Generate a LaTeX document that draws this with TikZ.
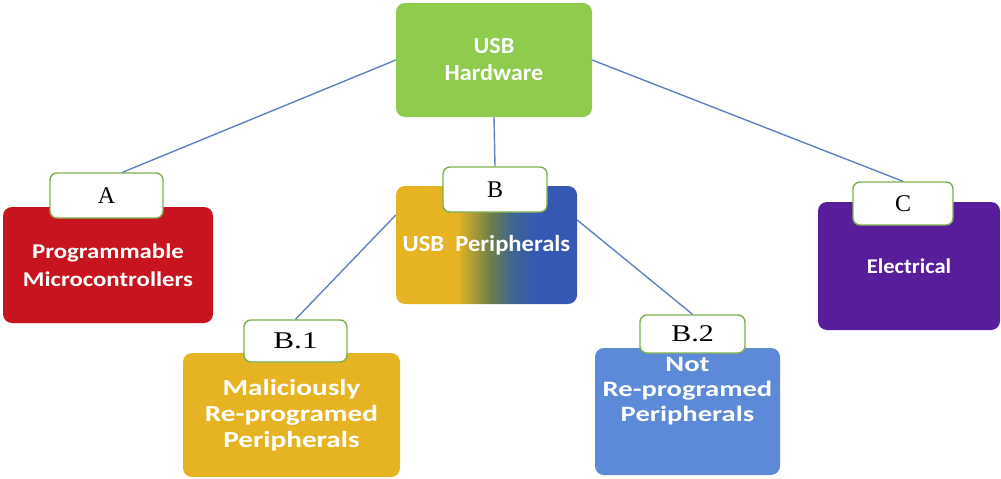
\documentclass[tikz,border=0pt]{standalone}
\usepackage{fontspec}
\setmainfont{Liberation Serif}
\newfontfamily\boxfont{Carlito}
\usetikzlibrary{calc}
\definecolor{hwgreen}{HTML}{8FCB4C}
\definecolor{ared}{HTML}{C8141E}
\definecolor{gold}{HTML}{E6B422}
\definecolor{bblue}{HTML}{3458B4}
\definecolor{midol}{HTML}{6E7E48}
\definecolor{midteal}{HTML}{3F6690}
\definecolor{lblue}{HTML}{5C89D8}
\definecolor{cpurple}{HTML}{581D9A}
\definecolor{lnblue}{HTML}{5F82C2}
\definecolor{lbgreen}{HTML}{7DB04B}
\pgfdeclarehorizontalshading{usbgrad}{100bp}{color(0bp)=(gold); color(42bp)=(gold); color(51bp)=(midol); color(57bp)=(midteal); color(64bp)=(bblue); color(100bp)=(bblue)}
\newcommand{\bxf}[3]{\boxfont\bfseries\addfontfeatures{FakeStretch=#3}\fontsize{#1}{#2}\selectfont}
\newcommand{\tgf}[1]{\addfontfeatures{FakeStretch=#1}\fontsize{24}{26}\selectfont}
\tikzset{
  catbox/.style={rounded corners=9pt, minimum width=#1, inner sep=0pt, align=center, text=white},
  tagbox/.style={draw=lbgreen, line width=1.4pt, fill=white, rounded corners=7pt, inner sep=0pt,
    font=\fontsize{24}{26}\selectfont},
  conn/.style={draw=lnblue, line width=1.4pt}
}
\begin{document}
\begin{tikzpicture}[x=1pt,y=-1pt]
\useasboundingbox (0,0) rectangle (1001,479);
% boxes
\node[catbox=196pt, minimum height=114pt, fill=hwgreen, font=\bxf{23}{27}{1.05}] (hw) at (494,60) {USB\\Hardware};
\node[catbox=210pt, minimum height=116pt, fill=ared, font=\bxf{21}{28}{1.18}] (ba) at (108,265) {Programmable\\Microcontrollers};
\node[catbox=181pt, minimum height=118pt, shading=usbgrad, font=\bxf{23}{27}{1.07}] (bb) at (486.5,245) {USB\ \ Peripherals};
\node[catbox=217pt, minimum height=124pt, fill=gold, font=\bxf{23}{26}{1.27}] (bb1) at (291.5,415) {Maliciously\\Re-programed\\Peripherals};
\node[catbox=185pt, minimum height=127pt, fill=lblue] (bb2) at (687.5,411.5) {};
\node[catbox=0pt, font=\bxf{22}{25}{1.3}] (t2) at (687.5,391) {Not\\Re-programed\\Peripherals};
\node[catbox=182pt, minimum height=128pt, fill=cpurple, font=\bxf{21}{27}{1.07}] (bc) at (909,266) {Electrical};
% tags
\node[tagbox, minimum width=113pt, minimum height=45pt] (la) at (106.5,195.5) {A};
\node[tagbox, minimum width=104pt, minimum height=45pt] (lb) at (495,189.5) {B};
\node[tagbox, minimum width=103pt, minimum height=42pt, font=\tgf{1.3}] (lb1) at (295.5,341) {B.1};
\node[tagbox, minimum width=105pt, minimum height=38pt, font=\tgf{1.25}] (lb2) at (692.5,334) {B.2};
\node[tagbox, minimum width=100pt, minimum height=43pt] (lc) at (903,203.5) {C};
% connectors
\draw[conn] (hw.west) -- ([xshift=16pt]la.north);
\draw[conn] (hw.east) -- (lc.north);
\draw[conn] (hw.south) -- (lb.north);
\draw[conn] ([yshift=30pt]bb.west) -- (lb1.north);
\draw[conn] ([yshift=25pt]bb.east) -- (lb2.north);
\end{tikzpicture}
\end{document}
